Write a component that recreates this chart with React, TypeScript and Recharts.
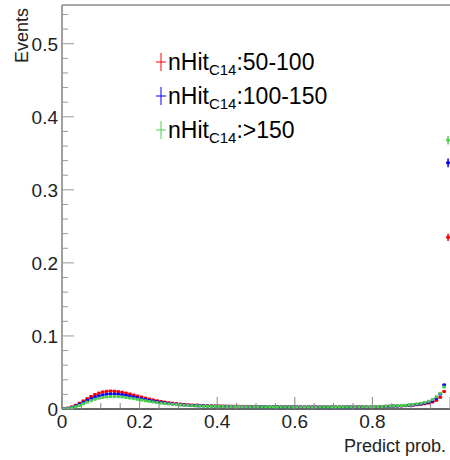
import React from 'react';
import { ScatterChart, Scatter, XAxis, YAxis, ErrorBar, Legend, Label, ReferenceLine } from 'recharts';

const BIN_WIDTH = 0.01;

// normalised event fractions per 0.01 bin of predict prob.
const red50to100 = [
  0.0004, 0.0012, 0.0028, 0.0050, 0.0078, 0.0110, 0.0142, 0.0172, 0.0198, 0.0218,
  0.0233, 0.0242, 0.0246, 0.0244, 0.0238, 0.0229, 0.0218, 0.0205, 0.0191, 0.0177,
  0.0163, 0.0149, 0.0136, 0.0124, 0.0113, 0.0103, 0.0094, 0.0086, 0.0079, 0.0073,
  0.0067, 0.0062, 0.0058, 0.0055, 0.0052, 0.0049, 0.0047, 0.0045, 0.0043, 0.0042,
  0.0041, 0.0040, 0.0039, 0.0038, 0.0037, 0.0037, 0.0036, 0.0035, 0.0035, 0.0034,
  0.0034, 0.0033, 0.0033, 0.0032, 0.0032, 0.0031, 0.0031, 0.0031, 0.0030, 0.0030,
  0.0030, 0.0030, 0.0029, 0.0029, 0.0030, 0.0029, 0.0029, 0.0029, 0.0028, 0.0029,
  0.0029, 0.0029, 0.0029, 0.0030, 0.0030, 0.0030, 0.0031, 0.0031, 0.0032, 0.0032,
  0.0033, 0.0034, 0.0035, 0.0036, 0.0037, 0.0039, 0.0041, 0.0043, 0.0046, 0.0049,
  0.0053, 0.0058, 0.0064, 0.0072, 0.0082, 0.0096, 0.0118, 0.0160, 0.0240, 0.2350,
];

const blue100to150 = [
  0.0003, 0.0009, 0.0022, 0.0040, 0.0063, 0.0089, 0.0116, 0.0141, 0.0163, 0.0180,
  0.0193, 0.0202, 0.0207, 0.0207, 0.0203, 0.0196, 0.0187, 0.0176, 0.0164, 0.0152,
  0.0140, 0.0128, 0.0117, 0.0107, 0.0098, 0.0090, 0.0082, 0.0075, 0.0069, 0.0064,
  0.0059, 0.0055, 0.0051, 0.0048, 0.0046, 0.0044, 0.0042, 0.0040, 0.0039, 0.0038,
  0.0037, 0.0036, 0.0035, 0.0034, 0.0034, 0.0033, 0.0033, 0.0032, 0.0031, 0.0031,
  0.0031, 0.0030, 0.0030, 0.0029, 0.0029, 0.0029, 0.0028, 0.0028, 0.0028, 0.0028,
  0.0027, 0.0027, 0.0027, 0.0027, 0.0027, 0.0027, 0.0027, 0.0026, 0.0027, 0.0027,
  0.0027, 0.0027, 0.0027, 0.0028, 0.0028, 0.0028, 0.0029, 0.0029, 0.0030, 0.0031,
  0.0032, 0.0033, 0.0034, 0.0035, 0.0037, 0.0039, 0.0041, 0.0044, 0.0047, 0.0051,
  0.0056, 0.0062, 0.0070, 0.0080, 0.0093, 0.0112, 0.0145, 0.0205, 0.0330, 0.3370,
];

const green150up = [
  0.0002, 0.0006, 0.0016, 0.0030, 0.0049, 0.0071, 0.0093, 0.0114, 0.0133, 0.0148,
  0.0159, 0.0166, 0.0170, 0.0171, 0.0169, 0.0164, 0.0158, 0.0150, 0.0141, 0.0132,
  0.0122, 0.0113, 0.0104, 0.0096, 0.0088, 0.0081, 0.0075, 0.0069, 0.0064, 0.0059,
  0.0055, 0.0051, 0.0048, 0.0045, 0.0043, 0.0041, 0.0039, 0.0038, 0.0037, 0.0036,
  0.0035, 0.0034, 0.0033, 0.0033, 0.0032, 0.0032, 0.0031, 0.0031, 0.0030, 0.0030,
  0.0030, 0.0029, 0.0029, 0.0029, 0.0028, 0.0028, 0.0028, 0.0028, 0.0027, 0.0027,
  0.0027, 0.0027, 0.0027, 0.0027, 0.0026, 0.0027, 0.0027, 0.0027, 0.0027, 0.0027,
  0.0027, 0.0027, 0.0028, 0.0028, 0.0028, 0.0029, 0.0029, 0.0030, 0.0031, 0.0032,
  0.0033, 0.0034, 0.0035, 0.0037, 0.0039, 0.0041, 0.0044, 0.0047, 0.0051, 0.0056,
  0.0062, 0.0069, 0.0078, 0.0090, 0.0106, 0.0130, 0.0168, 0.0215, 0.0300, 0.3680,
];

// error on the last (signal) bin, the only one where the bar is visible
const lastBinErr = { red: 0.005, blue: 0.006, green: 0.006 };

const seriesNames = ['50-100', '100-150', '>150'];

const xTicks = [0, 0.05, 0.1, 0.15, 0.2, 0.25, 0.3, 0.35, 0.4, 0.45, 0.5, 0.55, 0.6, 0.65, 0.7, 0.75, 0.8, 0.85, 0.9, 0.95, 1];
const xLabels = ['0', '0.2', '0.4', '0.6', '0.8'];
const yTicks = [0, 0.02, 0.04, 0.06, 0.08, 0.1, 0.12, 0.14, 0.16, 0.18, 0.2, 0.22, 0.24, 0.26, 0.28, 0.3,
  0.32, 0.34, 0.36, 0.38, 0.4, 0.42, 0.44, 0.46, 0.48, 0.5, 0.52, 0.54];
const yLabels = ['0', '0.1', '0.2', '0.3', '0.4', '0.5'];
const Y_MAX = 0.553;

const RED = '#ff0000';
const BLUE = '#0000ff';
const GREEN = '#4fd14f';
const FONT = '"Liberation Sans", Arial, Helvetica, sans-serif';

const X_MARGIN = 4;
const Y_MARGIN = 4;

function toPoints(values: number[], lastErr: number) {
  return values.map((y, i) => ({
    x: (i + 0.5) * BIN_WIDTH,
    y,
    ex: BIN_WIDTH / 2,
    ey: i === values.length - 1 ? lastErr : 0,
  }));
}

const redPts = toPoints(red50to100, lastBinErr.red);
const bluePts = toPoints(blue100to150, lastBinErr.blue);
const greenPts = toPoints(green150up, lastBinErr.green);

const fmt = (v: number) => (v === 0 ? '0' : String(Number(v.toFixed(2))));

const YTick = (props: any) => {
  const { x, y, payload } = props;
  const label = fmt(payload.value);
  const major = yLabels.includes(label);
  const axisX = x + Y_MARGIN;
  return (
    <g>
      <line x1={axisX} x2={axisX + (major ? 12 : 6)} y1={y} y2={y} stroke="#999" />
      {major && (
        <text x={x} y={y} dy={7} textAnchor="end" fontSize={19} fontFamily={FONT} fill="#222">{label}</text>
      )}
    </g>
  );
};

const XTick = (props: any) => {
  const { x, y, payload } = props;
  const label = fmt(payload.value);
  const major = ['0', '0.2', '0.4', '0.6', '0.8', '1'].includes(label);
  const axisY = y - X_MARGIN;
  return (
    <g>
      <line x1={x} x2={x} y1={axisY} y2={axisY - (major ? 12 : 6)} stroke="#888" />
      {xLabels.includes(label) && (
        <text x={x} y={axisY} dy={19} textAnchor="middle" fontSize={19} fontFamily={FONT} fill="#222">{label}</text>
      )}
    </g>
  );
};

const marker = (color: string) => (props: any) => (
  <rect x={props.cx - 1.5} y={props.cy - 1.5} width={3} height={3} fill={color} />
);

const colors = [RED, BLUE, GREEN];

const renderLegend = () => (
  <div style={{ fontFamily: FONT, fontSize: 23, color: '#000' }}>
    {seriesNames.map((name, i) => (
      <div key={name} style={{ display: 'flex', alignItems: 'center', height: 34 }}>
        <svg width={12} height={20} style={{ marginRight: 1 }}>
          <line x1={6} x2={6} y1={1} y2={19} stroke={colors[i]} />
          <line x1={1} x2={11} y1={10} y2={10} stroke={colors[i]} />
        </svg>
        <span style={{ whiteSpace: 'nowrap' }}>
          nHit<sub style={{ fontSize: 15, verticalAlign: '-5px', lineHeight: 0 }}>C14</sub>:{name}
        </span>
      </div>
    ))}
  </div>
);

export default function App() {
  return (
    <div style={{ position: 'absolute', left: 0, top: 0, width: 450, height: 460, background: '#fff' }}>
      <ScatterChart width={450} height={460} margin={{ top: 5, right: 0, bottom: 0, left: 0 }}>
        <XAxis
          type="number"
          dataKey="x"
          domain={[0, 1]}
          ticks={xTicks}
          interval={0}
          height={51}
          tickSize={0}
          tickMargin={X_MARGIN}
          tickLine={false}
          tick={<XTick />}
          axisLine={{ stroke: '#333', strokeWidth: 1.5 }}
        >
          <Label
            content={(p: any) => (
              <text
                x={p.viewBox.x + p.viewBox.width - 4}
                y={p.viewBox.y + 43}
                textAnchor="end"
                fontSize={18}
                fontFamily={FONT}
                fill="#222"
              >
                Predict prob.
              </text>
            )}
          />
        </XAxis>
        <YAxis
          type="number"
          dataKey="y"
          domain={[0, Y_MAX]}
          allowDataOverflow
          ticks={yTicks}
          interval={0}
          width={62}
          tickSize={0}
          tickMargin={Y_MARGIN}
          tickLine={false}
          tick={<YTick />}
          axisLine={{ stroke: '#a0a0a0', strokeWidth: 2 }}
        >
          <Label
            content={(p: any) => (
              <text
                transform={`translate(${p.viewBox.x + 28}, ${p.viewBox.y + 3}) rotate(-90)`}
                textAnchor="end"
                fontSize={18}
                fontFamily={FONT}
                fill="#222"
              >
                Events
              </text>
            )}
          />
        </YAxis>
        <ReferenceLine y={Y_MAX} stroke="#a8a8a8" strokeWidth={2} />
        <Legend
          layout="vertical"
          align="center"
          verticalAlign="middle"
          content={renderLegend}
          wrapperStyle={{ position: 'absolute', left: 155, top: 45, width: 'auto' }}
        />
        <Scatter name={seriesNames[0]} data={redPts} shape={marker(RED)} isAnimationActive={false}>
          <ErrorBar dataKey="ey" direction="y" width={0} stroke={RED} />
          <ErrorBar dataKey="ex" direction="x" width={0} stroke={RED} />
        </Scatter>
        <Scatter name={seriesNames[1]} data={bluePts} shape={marker(BLUE)} isAnimationActive={false}>
          <ErrorBar dataKey="ey" direction="y" width={0} stroke={BLUE} />
          <ErrorBar dataKey="ex" direction="x" width={0} stroke={BLUE} />
        </Scatter>
        <Scatter name={seriesNames[2]} data={greenPts} shape={marker(GREEN)} isAnimationActive={false}>
          <ErrorBar dataKey="ey" direction="y" width={0} stroke={GREEN} />
          <ErrorBar dataKey="ex" direction="x" width={0} stroke={GREEN} />
        </Scatter>
      </ScatterChart>
    </div>
  );
}
